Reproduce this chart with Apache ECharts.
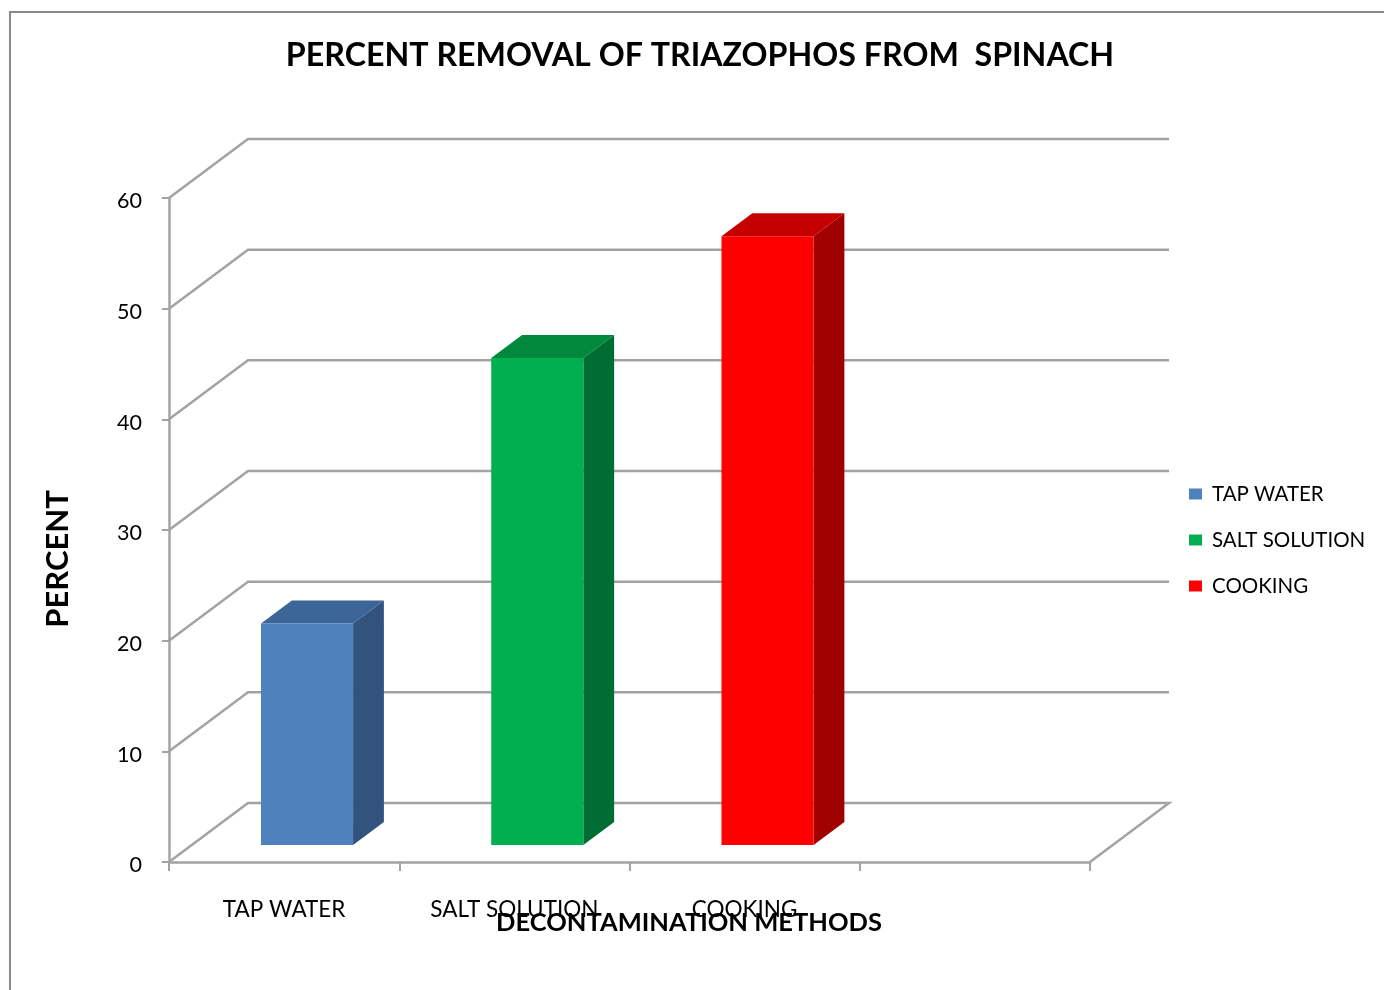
<!DOCTYPE html>
<html><head><meta charset="utf-8">
<script src="https://cdn.jsdelivr.net/npm/echarts@6/dist/echarts.min.js"></script>
<style>html,body{margin:0;padding:0;background:#fff}#c{width:1384px;height:990px}</style>
</head><body><div id="c"></div>
<script>
// ---- data ----
const chartTitle = 'PERCENT REMOVAL OF TRIAZOPHOS FROM  SPINACH';
const xAxisTitle = 'DECONTAMINATION METHODS';
const yAxisTitle = 'PERCENT';
const categories = ['TAP WATER', 'SALT SOLUTION', 'COOKING', ''];
const seriesNames = ['TAP WATER', 'SALT SOLUTION', 'COOKING'];
const seriesValues = [20, 44, 55];           // series i sits in category i
const yTicks = [0, 10, 20, 30, 40, 50, 60];

// ---- style ----
const FONT = 'Lato';
const frontColors = ['#4f81bd', '#00b050', '#ff0000'];
const topColors = ['#3c6698', '#00883d', '#c40000'];
const sideColors = ['#32537d', '#006e32', '#a00000'];
const GRID_COLOR = '#a3a3a3';
const DX = 79, DY = -59;          // wall depth
const BAR_OFF = 0.29, BAR_DEPTH = 0.39, BAR_W = 0.4;

function wallItem(params, api) {
  const v = api.value(1);
  const p0 = api.coord([0, v]);
  const band = api.size([1, 0])[0];
  const xL = p0[0] - band / 2;
  const xR = api.coord([categories.length - 1, v])[0] + band / 2;
  const y = p0[1];
  const pts = [[xL, y], [xL + DX, y + DY], [xR + DX, y + DY]];
  if (v === yTicks[0]) pts.push([xR, y]);
  return { type: 'polyline', shape: { points: pts }, style: { stroke: GRID_COLOR, lineWidth: 2.5, fill: null } };
}

function barRenderer(i) {
  return function (params, api) {
    const cat = api.value(0), v = api.value(1);
    const band = api.size([1, 0])[0];
    const base = api.coord([cat, 0]);
    const topP = api.coord([cat, v]);
    const w = band * BAR_W;
    const ox = DX * BAR_OFF, oy = DY * BAR_OFF;
    const dx = DX * BAR_DEPTH, dy = DY * BAR_DEPTH;
    const xL = base[0] - w / 2 + ox, xR = xL + w;
    const yB = base[1] + oy, yT = topP[1] + oy;
    return { type: 'group', children: [
      { type: 'polygon', shape: { points: [[xR, yT], [xR + dx, yT + dy], [xR + dx, yB + dy], [xR, yB]] }, style: { fill: sideColors[i] } },
      { type: 'polygon', shape: { points: [[xL, yT], [xL + dx, yT + dy], [xR + dx, yT + dy], [xR, yT]] }, style: { fill: topColors[i] } },
      { type: 'rect', shape: { x: xL, y: yT, width: w, height: yB - yT }, style: { fill: frontColors[i] } }
    ] };
  };
}

const chart = echarts.init(document.getElementById('c'), null, { renderer: 'canvas' });
const series = [{
  type: 'custom', name: '_walls', renderItem: wallItem, silent: true, z: 1,
  data: yTicks.map(v => [0, v]), encode: { x: 0, y: 1 }
}];
seriesNames.forEach((n, i) => {
  series.push({
    type: 'custom', name: n, renderItem: barRenderer(i), z: 5,
    itemStyle: { color: frontColors[i] },
    data: [[i, seriesValues[i]]], encode: { x: 0, y: 1 }
  });
});

chart.setOption({
  animation: false,
  textStyle: { fontFamily: FONT },
  grid: { left: 169, right: 294, top: 198, bottom: 128, containLabel: false },
  xAxis: {
    type: 'category', data: categories,
    axisLine: { show: true, lineStyle: { color: GRID_COLOR, width: 2.5 } },
    axisTick: { show: true, length: 9, alignWithLabel: false, lineStyle: { color: GRID_COLOR, width: 2 } },
    axisLabel: { interval: 0, fontSize: 22.5, color: '#000', margin: 36, fontFamily: FONT },
    splitLine: { show: false }
  },
  yAxis: {
    type: 'value', min: 0, max: 60, interval: 10,
    axisLine: { show: true, lineStyle: { color: GRID_COLOR, width: 2.5 } },
    axisTick: { show: true, length: 7, lineStyle: { color: GRID_COLOR, width: 2 } },
    axisLabel: { fontSize: 21.5, color: '#000', margin: 27, fontFamily: FONT, verticalAlign: 'top', lineHeight: 7 },
    splitLine: { show: false }
  },
  legend: {
    orient: 'vertical', left: 1184, top: 478,
    data: seriesNames.map(n => ({ name: n, icon: 'rect' })),
    itemWidth: 13, itemHeight: 11, itemGap: 24,
    textStyle: { fontSize: 20.5, color: '#000', fontFamily: FONT, lineHeight: 22, padding: [0, 0, 0, 5] }
  },
  graphic: [
    { type: 'rect', shape: { x: 10, y: 12, width: 1420, height: 1020 }, style: { fill: null, stroke: '#8a8a8a', lineWidth: 2 }, z: -10, silent: true },
    { type: 'text', x: 700, y: 56, style: { text: chartTitle, fontFamily: FONT, fontSize: 32.2, fontWeight: 'bold', fill: '#000', align: 'center', verticalAlign: 'middle' } },
    { type: 'text', x: 689, y: 923, style: { text: xAxisTitle, fontFamily: FONT, fontSize: 25.5, fontWeight: 'bold', fill: '#000', align: 'center', verticalAlign: 'middle' }, z: 10 },
    { type: 'text', x: 58, y: 559, rotation: Math.PI / 2, style: { text: yAxisTitle, fontFamily: FONT, fontSize: 31, fontWeight: 'bold', fill: '#000', align: 'center', verticalAlign: 'middle' } }
  ],
  series: series
});
</script>
</body></html>
